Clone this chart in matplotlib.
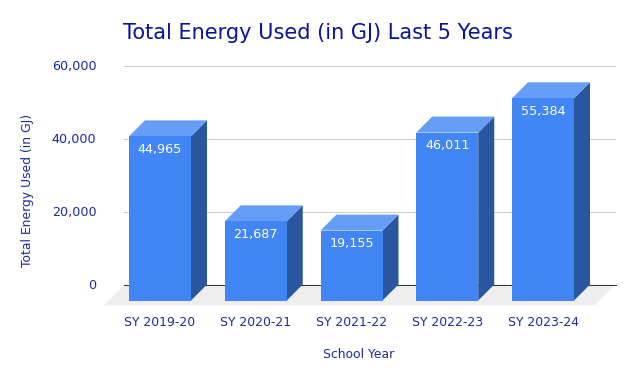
import numpy as np
import matplotlib
matplotlib.use('Agg')
import matplotlib.pyplot as plt

years = ['SY 2019-20', 'SY 2020-21', 'SY 2021-22', 'SY 2022-23', 'SY 2023-24']
energy = [44965, 21687, 19155, 46011, 55384]
y_ticks = [0, 20000, 40000, 60000]

text_col = '#1c2a9c'
front_col = '#4285f4'
top_col = '#669df6'
side_col = '#2a56a0'

W, H = 635, 381
fig = plt.figure(figsize=(W / 100, H / 100), dpi=100)
plt.rcParams['font.family'] = 'DejaVu Sans'

left, right, top, zero = 124.3, 615.7, 65.5, 284.5
ax = fig.add_axes([left / W, 1 - zero / H, (right - left) / W, (zero - top) / H])

#one category is 95.75 px wide, first bar centre at 160 px
cat_px = 95.75
ax.set_xlim((left - 160) / cat_px, (right - 160) / cat_px)
ax.set_ylim(0, 60000)
px_y = 60000 / (zero - top)

width = 62 / cat_px
dx = 16 / cat_px
dy = 16 * px_y
x = np.arange(len(years))

#floor
fx0, fx1 = ax.get_xlim()
floor_dx = 21 / cat_px
floor_dy = 21 * px_y
ax.fill([fx0, fx1, fx1 - floor_dx, fx0 - floor_dx], [0, 0, -floor_dy, -floor_dy],
	color='#eeeeee', lw=0, clip_on=False, zorder=1)

ax.set_yticks(y_ticks)
ax.set_yticklabels(['{:,}'.format(t) for t in y_ticks], color=text_col, fontsize=9.2, va='center')
ax.tick_params(axis='y', length=0, pad=20)
ax.tick_params(axis='x', length=0, pad=22.5)
ax.set_xticks(x)
ax.set_xticklabels(years, color=text_col, fontsize=8.9)

#labels sit a pixel under their gridlines in the reference
for lab in ax.get_yticklabels():
	lab.set_y(lab.get_position()[1])
	lab.set_transform(lab.get_transform() + matplotlib.transforms.ScaledTranslation(0, -1 / 100, fig.dpi_scale_trans))

for t in y_ticks[1:]:
	ax.axhline(t, color='#cccccc', lw=0.72, zorder=0.5)
ax.axhline(0, color='#333333', lw=0.72, zorder=2, clip_on=False)

for s in ax.spines.values():
	s.set_visible(False)

#3D boxes: front from the bar call, side and top as polygons
for xi, v in zip(x, energy):
	x0 = xi - width / 2
	x1 = xi + width / 2
	base = -dy
	ax.fill([x1, x1 + dx, x1 + dx, x1], [base, 0, v, v - dy],
		color=side_col, lw=0, clip_on=False, zorder=3)
	ax.fill([x0, x1, x1 + dx, x0 + dx], [v - dy, v - dy, v, v],
		color=top_col, lw=0, clip_on=False, zorder=3)
	ax.bar(xi, v, width=width, bottom=base, color=front_col, lw=0, clip_on=False, zorder=4)
	ax.annotate('{:,}'.format(v), (xi, v - dy), xytext=(0, -9.4), textcoords='offset points',
		ha='center', va='center', color='white', fontsize=9.2, zorder=5)

fig.text(123 / W, 1 - 33 / H, 'Total Energy Used (in GJ) Last 5 Years', color='#0a1496',
	fontsize=15, ha='left', va='center')
fig.text(359 / W, 1 - 354 / H, 'School Year', color=text_col, fontsize=8.9,
	ha='center', va='center')
fig.text(28 / W, 1 - 190 / H, 'Total Energy Used (in GJ)', color=text_col, fontsize=8.9,
	rotation=90, ha='center', va='center')

fig.savefig('out.png', dpi=100)
